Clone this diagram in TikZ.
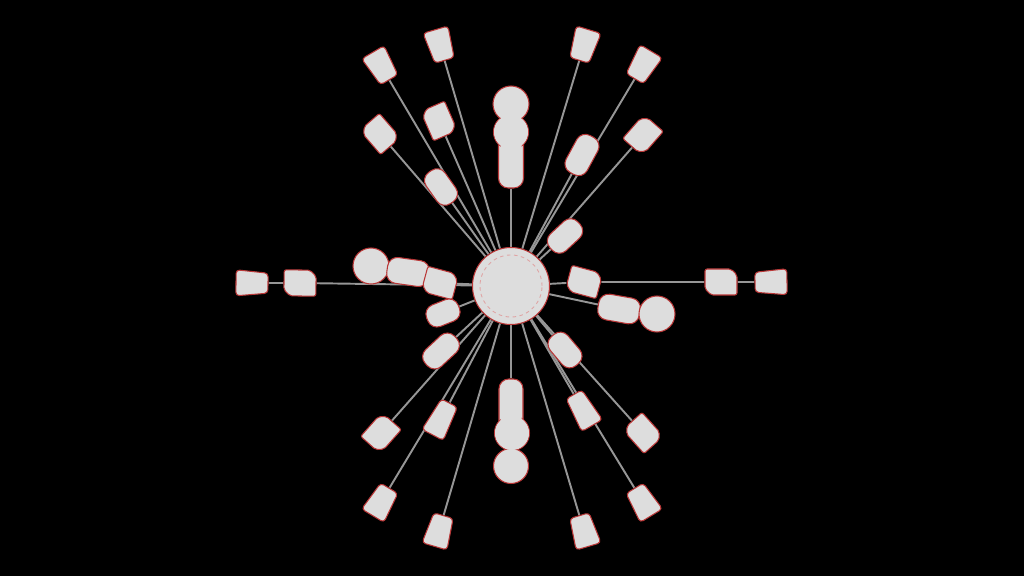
\documentclass[tikz,border=0pt]{standalone}
\usepackage{tikz}

\definecolor{shell}{RGB}{221,221,221}
\definecolor{rim}{RGB}{185,55,55}
\definecolor{wire}{RGB}{150,150,150}
\pgfdeclarelayer{back}
\pgfdeclarelayer{wires}
\pgfsetlayers{back,wires,main}

\begin{document}
\begin{tikzpicture}[x=0.01cm,y=-0.01cm,
    skin/.style={fill=shell,draw=rim,line width=0.3pt},
    core/.style={shape=rectangle,draw=none,fill=none,inner sep=0pt,transform shape},
    hub/.style={skin,circle,inner sep=0pt,minimum size=0.77cm},
    bead/.style={skin,circle,inner sep=0pt,minimum size=0.36cm},
    rod/.style={skin,rectangle,rounded corners=2.8pt,inner sep=0pt,minimum width=0.38cm,minimum height=0.23cm},
    cup/.pic={
      \filldraw[skin,rounded corners=1pt] (-16,-10) -- (16,-13) -- (16,13) -- (-16,10) -- cycle;
      \node[core,minimum width=0.32cm,minimum height=0.26cm] (-n) at (0,0) {};
    },
    bigcup/.pic={
      \filldraw[skin,rounded corners=1pt] (-18,-9) -- (18,-12) -- (18,12) -- (-18,9) -- cycle;
      \node[core,minimum width=0.36cm,minimum height=0.24cm] (-n) at (0,0) {};
    },
    gem/.pic={
      \filldraw[skin,rounded corners=0.6pt] (-16,-13) -- (10,-13) -- (16,-7) -- (16,13) -- (-10,13) -- (-16,7) -- cycle;
      \node[core,minimum width=0.32cm,minimum height=0.26cm] (-n) at (0,0) {};
    },
    link/.style={draw=wire,line width=0.55pt}]

\begin{pgfonlayer}{back}
\fill[black] (0,0) rectangle (1024,576);
\end{pgfonlayer}
\useasboundingbox (0,0) rectangle (1024,576);

\node[hub] (hub) at (511,286) {};
\draw[rim!45,line width=0.25pt,dash pattern=on 1pt off 1pt] (hub.center) circle (0.31cm);

% upper left
\pic[rotate=120.6] (cupA) at (381,66) {cup};
\pic[rotate=106.4] (cupB) at (440,45) {cup};
\pic[rotate=130.8] (gemA) at (380,134) {gem};
\pic[rotate=113.6] (gemB) at (439,121) {gem};
\node[rod,rotate=125.3] (rodA) at (441,187) {};

% top column
\node[rod,rotate=90,minimum width=0.58cm,minimum height=0.25cm] (rodT) at (511,159) {};
\node[bead,minimum size=0.35cm] (beadT2) at (511,132) {};
\node[bead] (beadT1) at (511,104) {};
\fill[shell] (beadT2.center) circle (0.17cm);
\fill[shell,rounded corners=2pt] (500.5,131) rectangle (521.5,186);

% upper right
\pic[rotate=73.1] (cupC) at (584,45) {cup};
\pic[rotate=59.2] (cupD) at (643,65) {cup};
\pic[rotate=48.8] (gemC) at (643,135) {gem};
\node[rod,rotate=61.5,minimum width=0.42cm,minimum height=0.24cm] (rodB) at (582,155) {};
\node[rod,rotate=42.8] (rodC) at (565,236) {};

% left row
\pic[rotate=179.3] (cupE) at (252,283) {cup};
\pic[rotate=179.2] (gemD) at (300,283) {gem};
\node[bead] (beadL) at (371,266) {};
\node[rod,rotate=-8,minimum width=0.42cm,minimum height=0.26cm] (rodL) at (408,272) {};
\pic[rotate=165] (gemE) at (440,283) {gem};
\node[rod,rotate=21.7,minimum width=0.34cm] (rodD) at (443,313) {};
\node[rod,rotate=42.9,minimum width=0.40cm] (rodE) at (441,351) {};

% right row
\pic[rotate=-15] (gemF) at (584,282) {gem};
\pic (gemG) at (721,282) {gem};
\pic[rotate=0.9] (cupF) at (771,282) {cup};
\node[rod,rotate=-10,minimum width=0.42cm,minimum height=0.26cm] (rodR) at (619,309) {};
\node[bead] (beadR) at (657,314) {};

% lower right
\node[rod,rotate=-49.8] (rodF) at (565,350) {};
\pic[rotate=-59.9] (cupG) at (583,410) {bigcup};
\pic[rotate=-48.1] (gemH) at (643,433) {gem};
\pic[rotate=-58.6] (cupH) at (643,502) {cup};
\pic[rotate=-73.4] (cupI) at (584,531) {cup};

% lower column
\node[rod,rotate=90,minimum width=0.52cm,minimum height=0.24cm] (rodB2) at (511,405) {};
\node[bead,minimum size=0.35cm] (beadB1) at (512,433) {};
\node[bead,minimum size=0.35cm] (beadB2) at (511,466) {};
\fill[shell,rounded corners=2pt] (500.5,381) rectangle (521.5,429);
\fill[shell] (beadB1.center) circle (0.17cm);

% lower left
\pic[rotate=-117.8] (cupJ) at (441,419) {bigcup};
\pic[rotate=-131.5] (gemI) at (381,433) {gem};
\pic[rotate=-121] (cupK) at (381,502) {cup};
\pic[rotate=-106.4] (cupL) at (439,531) {cup};

\begin{pgfonlayer}{wires}
\foreach \n in {cupA-n,cupB-n,gemA-n,gemB-n,rodA,rodT,cupC-n,cupD-n,gemC-n,rodB,rodC,
                gemD-n,gemE-n,rodD,rodE,gemF-n,rodR,rodF,cupG-n,gemH-n,cupH-n,cupI-n,
                rodB2,cupJ-n,gemI-n,cupK-n,cupL-n}
  \draw[link] (hub) -- (\n);
\draw[link] (gemD-n) -- (cupE-n);
\draw[link] (gemF-n) -- (gemG-n);
\draw[link] (gemG-n) -- (cupF-n);
\end{pgfonlayer}
\end{tikzpicture}
\end{document}
